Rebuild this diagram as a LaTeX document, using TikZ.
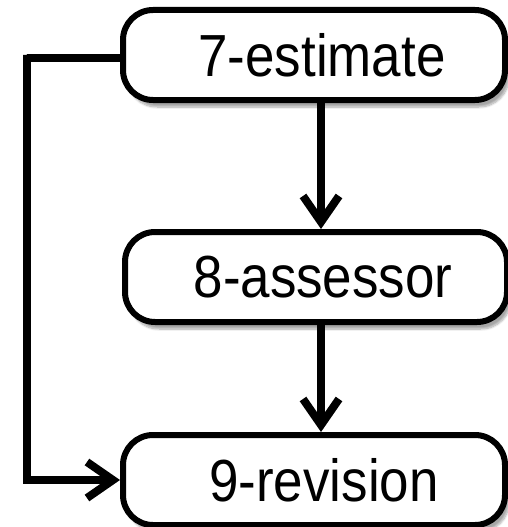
\documentclass[tikz,border=0pt]{standalone}
\usepackage{fontspec}
\setmainfont{Liberation Sans}
\usetikzlibrary{arrows.meta,shadows,shadows.blur}
\newcommand{\boxtext}[1]{\scalebox{0.98}[1.1]{#1}}
\begin{document}
\begin{tikzpicture}[x=1pt,y=-1pt,
  box/.style={draw=black, line width=6pt, fill=white, rounded corners=30pt,
    minimum width=382pt, minimum height=90pt, inner sep=0pt,
    font=\fontsize{54}{60}\selectfont,
    blur shadow={shadow xshift=4pt, shadow yshift=-7pt, shadow blur steps=8, shadow opacity=35}},
  conn/.style={line width=8pt, -{Straight Barb[length=26pt,width=36pt]}}]
\useasboundingbox (0,0) rectangle (507,527);
\node[box] (a) at (314,55) {\hspace*{16pt}\boxtext{7-estimate}};
\node[box] (b) at (316,277) {\hspace*{14pt}\boxtext{8-assessor}};
\node[box] (c) at (314,480) {\hspace*{20pt}\boxtext{9-revision}};
\coordinate (l1) at (27,55);
\draw[conn] ([xshift=7pt]a.south) -- ([xshift=5pt]b.north);
\draw[conn] ([xshift=5pt]b.south) -- ([xshift=7pt]c.north);
\draw[conn] ([yshift=-3pt]a.west) -| (l1) |- (c.west);
\end{tikzpicture}
\end{document}
